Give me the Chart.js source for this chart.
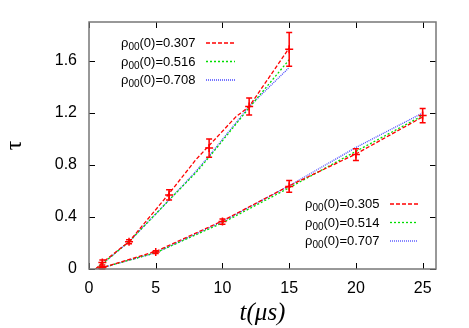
<!DOCTYPE html>
<html>
<head>
<meta charset="utf-8">
<script src="https://cdn.jsdelivr.net/npm/chart.js@4.4.1/dist/chart.umd.min.js"></script>
<style>
    body { margin: 0; background: #fff; }
    #wrap { width: 469px; height: 328px; }
</style>
</head>
<body>
<div id="wrap"><canvas id="plot" width="469" height="328"></canvas></div>
<script>
// tick labels
const xTicks = [0, 5, 10, 15, 20, 25];
const yTicks = [0, 0.4, 0.8, 1.2, 1.6];

// upper group (measured + three curves)
const tUpperMeas = [1, 3, 6, 9, 12, 15];
const tauUpperMeas = [0.05, 0.21, 0.57, 0.93, 1.25, 1.69];
const errUpperMeas = [0.02, 0.015, 0.04, 0.07, 0.065, 0.13];

const tUpperRed = [0.5, 1, 3, 6, 8, 9, 11, 12, 15];
const tauUpperRed = [0.0, 0.05, 0.21, 0.58, 0.84, 0.95, 1.17, 1.25, 1.70];
const tUpperGreen = [0.5, 1, 3, 6, 8, 9, 12, 15];
const tauUpperGreen = [0.0, 0.04, 0.21, 0.53, 0.74, 0.86, 1.24, 1.61];
const tUpperBlue = [0.5, 1, 3, 6, 8, 9, 12, 15];
const tauUpperBlue = [0.0, 0.04, 0.21, 0.53, 0.75, 0.87, 1.25, 1.55];

// lower group
const tLowerMeas = [1, 5, 10, 15, 20, 25];
const tauLowerMeas = [0.01, 0.13, 0.365, 0.635, 0.88, 1.18];
const errLowerMeas = [0.01, 0.01, 0.02, 0.045, 0.045, 0.055];

const tLower = [0.7, 1, 5, 10, 15, 20, 25];
const tauLowerRed = [0.005, 0.01, 0.135, 0.37, 0.64, 0.885, 1.17];
const tauLowerGreen = [0.005, 0.01, 0.125, 0.355, 0.625, 0.905, 1.18];
const tauLowerBlue = [0.005, 0.01, 0.125, 0.365, 0.64, 0.935, 1.2];

// key entries
const upperKey = ['0.307', '0.516', '0.708'];
const lowerKey = ['0.305', '0.514', '0.707'];

const RED = '#ff0000', GREEN = '#00dd00', BLUE = '#4848ff';
const styles = [
    { color: RED, dash: [4, 2] },
    { color: GREEN, dash: [2, 2] },
    { color: BLUE, dash: [1, 1] }
];

const pts = (xs, ys) => xs.map((x, i) => ({ x: x, y: ys[i] }));

function curve(xs, ys, s, order) {
    return {
        type: 'line',
        data: pts(xs, ys),
        borderColor: s.color,
        borderDash: s.dash,
        borderWidth: 1.3,
        pointRadius: 0,
        tension: 0,
        order: order
    };
}

function measured(xs, ys, errs) {
    return {
        type: 'scatter',
        data: pts(xs, ys),
        errors: errs,
        pointStyle: 'cross',
        pointRadius: 4,
        borderColor: RED,
        borderWidth: 1.5,
        order: 0
    };
}

const datasets = [
    measured(tUpperMeas, tauUpperMeas, errUpperMeas),
    measured(tLowerMeas, tauLowerMeas, errLowerMeas),
    curve(tUpperRed, tauUpperRed, styles[0], 1),
    curve(tUpperGreen, tauUpperGreen, styles[1], 2),
    curve(tUpperBlue, tauUpperBlue, styles[2], 3),
    curve(tLower, tauLowerRed, styles[0], 1),
    curve(tLower, tauLowerGreen, styles[1], 2),
    curve(tLower, tauLowerBlue, styles[2], 3)
];

// frame, inner ticks, error bars and the two keys
const gnuplotLook = {
    id: 'gnuplotLook',
    afterDatasetsDraw(chart) {
        const ctx = chart.ctx;
        const xs = chart.scales.x, ys = chart.scales.y;
        ctx.save();
        ctx.strokeStyle = RED;
        ctx.lineWidth = 1.5;
        chart.data.datasets.forEach(ds => {
            if (!ds.errors) return;
            ds.data.forEach((p, i) => {
                const px = xs.getPixelForValue(p.x);
                const top = ys.getPixelForValue(p.y + ds.errors[i]);
                const bot = ys.getPixelForValue(p.y - ds.errors[i]);
                ctx.beginPath();
                ctx.moveTo(px, top); ctx.lineTo(px, bot);
                ctx.moveTo(px - 3, top); ctx.lineTo(px + 3, top);
                ctx.moveTo(px - 3, bot); ctx.lineTo(px + 3, bot);
                ctx.stroke();
            });
        });
        ctx.restore();
    },
    afterDraw(chart) {
        const ctx = chart.ctx;
        const a = chart.chartArea;
        const xs = chart.scales.x, ys = chart.scales.y;
        ctx.save();
        ctx.strokeStyle = '#000';
        ctx.lineWidth = 1;
        ctx.beginPath();
        xTicks.forEach(v => {
            const px = Math.round(xs.getPixelForValue(v)) + 0.5;
            ctx.moveTo(px, a.bottom); ctx.lineTo(px, a.bottom - 6);
            ctx.moveTo(px, a.top); ctx.lineTo(px, a.top + 6);
        });
        yTicks.forEach(v => {
            const py = Math.round(ys.getPixelForValue(v)) + 0.5;
            ctx.moveTo(a.left, py); ctx.lineTo(a.left + 6, py);
            ctx.moveTo(a.right, py); ctx.lineTo(a.right - 6, py);
        });
        ctx.stroke();
        ctx.strokeStyle = '#777';
        ctx.lineWidth = 1.5;
        ctx.strokeRect(a.left, a.top, a.right - a.left, a.bottom - a.top);

        drawKey(ctx, 121, 43, upperKey, 206, 235);
        drawKey(ctx, 305, 204, lowerKey, 390, 418);
        ctx.restore();
    }
};

function drawKey(ctx, x, y, values, x0, x1) {
    values.forEach((v, i) => {
        const yy = y + i * 18.5;
        ctx.fillStyle = '#000';
        ctx.textBaseline = 'alphabetic';
        ctx.font = '13px "Liberation Sans", Arial, sans-serif';
        let cx = x;
        ctx.fillText('ρ', cx, yy + 4);
        cx += ctx.measureText('ρ').width;
        ctx.font = '10px "Liberation Sans", Arial, sans-serif';
        ctx.fillText('00', cx, yy + 7);
        cx += ctx.measureText('00').width;
        ctx.font = '13px "Liberation Sans", Arial, sans-serif';
        ctx.fillText('(0)=' + v, cx, yy + 4);

        ctx.strokeStyle = styles[i].color;
        ctx.setLineDash(styles[i].dash);
        ctx.lineWidth = 1.3;
        ctx.beginPath();
        ctx.moveTo(x0, yy); ctx.lineTo(x1, yy);
        ctx.stroke();
        ctx.setLineDash([]);
    });
}

new Chart('plot', {
    data: { datasets },
    options: {
        responsive: false,
        animation: false,
        devicePixelRatio: 1,
        layout: { padding: { left: 0, top: 22, right: 33, bottom: 0 } },
        plugins: {
            legend: { display: false },
            tooltip: { enabled: false }
        },
        scales: {
            x: {
                type: 'linear',
                min: 0,
                max: 26,
                afterBuildTicks: s => { s.ticks = xTicks.map(v => ({ value: v })); },
                afterFit: s => { s.height = 59; },
                grid: { display: false, drawTicks: false },
                border: { display: false },
                ticks: {
                    padding: 10,
                    color: '#000',
                    font: { family: '"Liberation Sans", Arial, sans-serif', size: 16 }
                },
                title: {
                    display: true,
                    text: 't(μs)',
                    color: '#000',
                    padding: 0,
                    font: { family: '"Liberation Serif", "Times New Roman", serif', size: 25, style: 'italic' }
                }
            },
            y: {
                type: 'linear',
                min: 0,
                max: 1.9,
                afterBuildTicks: s => { s.ticks = yTicks.map(v => ({ value: v })); },
                afterFit: s => { s.width = 89; },
                grid: { display: false, drawTicks: false },
                border: { display: false },
                ticks: {
                    padding: 12,
                    color: '#000',
                    font: { family: '"Liberation Sans", Arial, sans-serif', size: 16 }
                },
                title: {
                    display: true,
                    text: 'τ',
                    color: '#000',
                    padding: 0,
                    font: { family: '"Liberation Serif", "Times New Roman", serif', size: 24 }
                }
            }
        }
    },
    plugins: [gnuplotLook]
});
</script>
</body>
</html>
